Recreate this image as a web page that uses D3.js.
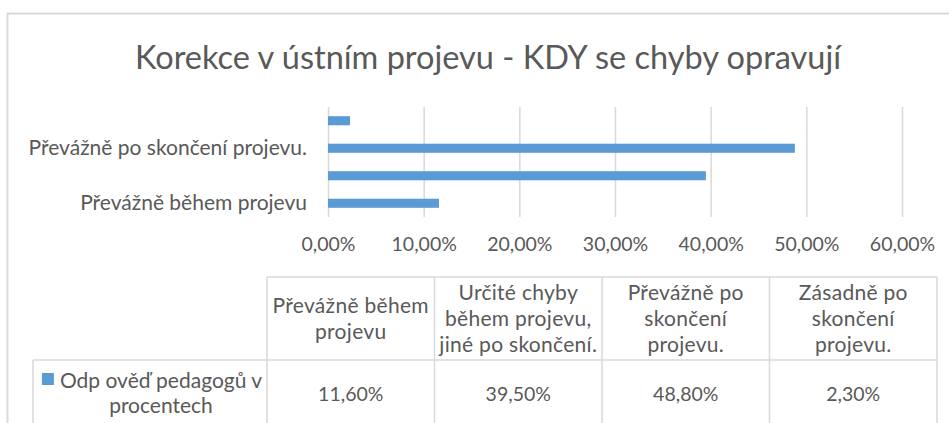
<!DOCTYPE html>
<html>
<head>
<meta charset="utf-8">
<script src="https://cdn.jsdelivr.net/npm/d3@7"></script>
<style>
  html, body { margin: 0; padding: 0; background: #fff; overflow: hidden; }
  text { font-family: Lato, "Open Sans", sans-serif; fill: #595959; }
</style>
</head>
<body>
<div id="chart"></div>
<script>
const title = "Korekce v ústním projevu - KDY se chyby opravují";
const categories = [
  "Převážně během projevu",
  "Určité chyby během projevu, jiné po skončení.",
  "Převážně po skončení projevu.",
  "Zásadně po skončení projevu."
];
// header cells of the data table, wrapped as in the original
const headerLines = [
  ["Převážně během", "projevu"],
  ["Určité chyby", "během projevu,", "jiné po skončení."],
  ["Převážně po", "skončení", "projevu."],
  ["Zásadně po", "skončení", "projevu."]
];
const values = [0.116, 0.395, 0.488, 0.023];
const xTicks = [0, 0.1, 0.2, 0.3, 0.4, 0.5, 0.6];
const seriesLines = ["Odp ověď pedagogů v", "procentech"];

const barColor = "#5b9bd5";
const lineColor = "#d9d9d9";
const wordSize = "21px", numSize = "19.5px";

var W = 949, H = 423;
// plot area
var margin = { top: 107, right: 47, bottom: 206, left: 328 },
  width = W - margin.left - margin.right,
  height = H - margin.top - margin.bottom;

var cz = d3.formatLocale({ decimal: ",", thousands: " ", grouping: [3], currency: ["", ""] });
var pct = cz.format(".2%");

var svg = d3
  .select("#chart")
  .append("svg")
  .attr("width", W)
  .attr("height", H);

// chart frame (only top and left edge visible)
svg
  .append("path")
  .attr("d", "M7.5," + H + "V13.5H" + W)
  .attr("fill", "none")
  .attr("stroke", lineColor)
  .attr("stroke-width", 2);

svg
  .append("text")
  .attr("x", 488)
  .attr("y", 69)
  .attr("text-anchor", "middle")
  .style("font-size", "32.5px")
  .text(title);

var g = svg
  .append("g")
  .attr("transform", "translate(" + margin.left + "," + margin.top + ")");

var x = d3.scaleLinear().domain([0, 0.6]).range([0, width]);
var y = d3
  .scaleBand()
  .domain(categories)
  .range([height, 0])
  .paddingInner(0.67)
  .paddingOuter(0.335);

// gridlines
g.append("g")
  .attr("transform", "translate(0," + height + ")")
  .call(d3.axisBottom(x).tickValues(xTicks).tickSize(-height).tickFormat(""))
  .call((a) => a.select(".domain").remove())
  .selectAll("line")
  .attr("stroke", lineColor)
  .attr("stroke-width", 1.5);

// x axis labels
g.append("g")
  .attr("transform", "translate(0," + height + ")")
  .call(d3.axisBottom(x).tickValues(xTicks).tickSize(0).tickPadding(20).tickFormat(pct))
  .call((a) => a.select(".domain").remove())
  .selectAll("text")
  .attr("font-family", null)
  .style("font-size", numSize);

// y axis labels, every second one like the original
g.append("g")
  .call(
    d3.axisLeft(y).tickSize(0).tickPadding(21).tickFormat((d, i) => (i % 2 === 0 ? d : ""))
  )
  .call((a) => a.select(".domain").remove())
  .selectAll("text")
  .attr("font-family", null)
  .style("font-size", wordSize);

g.selectAll(".bar")
  .data(values)
  .enter()
  .append("rect")
  .attr("class", "bar")
  .attr("x", 0)
  .attr("y", (d, i) => y(categories[i]))
  .attr("width", (d) => x(d))
  .attr("height", y.bandwidth())
  .attr("fill", barColor);

// data table
var tTop = 277, tMid = 360, tBottom = H + 5, legendLeft = 33;
var col = d3.scaleBand().domain(categories).range([267, 937]);

var table = svg.append("g").attr("stroke", lineColor).attr("stroke-width", 1.5);
table.append("line").attr("x1", col.range()[0]).attr("x2", col.range()[1]).attr("y1", tTop).attr("y2", tTop);
table.append("line").attr("x1", legendLeft).attr("x2", col.range()[1]).attr("y1", tMid).attr("y2", tMid);
table.append("line").attr("x1", legendLeft).attr("x2", legendLeft).attr("y1", tMid).attr("y2", tBottom);
table
  .selectAll(".vl")
  .data(categories.concat([null]))
  .enter()
  .append("line")
  .attr("x1", (d) => (d ? col(d) : col.range()[1]))
  .attr("x2", (d) => (d ? col(d) : col.range()[1]))
  .attr("y1", tTop)
  .attr("y2", tBottom);

var lh = 26;
var hc = (tTop + tMid) / 2 + 7.5;
categories.forEach(function (c, i) {
  var lines = headerLines[i];
  var t = svg
    .append("text")
    .attr("text-anchor", "middle")
    .style("font-size", wordSize)
    .style("letter-spacing", "0.3px");
  lines.forEach(function (l, j) {
    t.append("tspan")
      .attr("x", col(c) + col.bandwidth() / 2)
      .attr("y", hc + (j - (lines.length - 1) / 2) * lh)
      .text(l);
  });
  svg
    .append("text")
    .attr("x", col(c) + col.bandwidth() / 2)
    .attr("y", 401)
    .attr("text-anchor", "middle")
    .style("font-size", numSize)
    .text(pct(values[i]));
});

// series legend cell
var lc = 161;
var leg = svg.append("text").attr("text-anchor", "middle").style("font-size", wordSize);
seriesLines.forEach(function (l, j) {
  leg.append("tspan").attr("x", lc).attr("y", 388 + j * 25).text(l);
});
var firstW = leg.select("tspan").node().getComputedTextLength();
svg
  .append("rect")
  .attr("x", lc - firstW / 2 - 18)
  .attr("y", 373)
  .attr("width", 12)
  .attr("height", 12)
  .attr("fill", barColor);
</script>
</body>
</html>
